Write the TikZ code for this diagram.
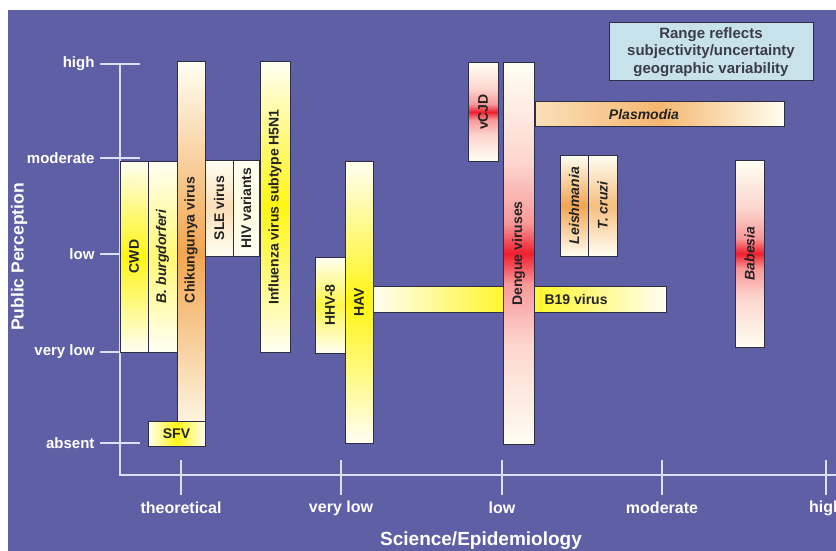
\documentclass[tikz,border=0pt]{standalone}
\usepackage{fontspec}
\setmainfont{Liberation Sans}
\definecolor{bgpurple}{RGB}{95,95,165}
\definecolor{axiscol}{RGB}{222,222,245}
\definecolor{barline}{RGB}{45,45,70}
\definecolor{bartext}{RGB}{35,35,35}
\definecolor{ivory}{RGB}{255,254,242}
\definecolor{legendfill}{RGB}{200,226,236}
\definecolor{legendtext}{RGB}{60,60,70}
\definecolor{glowyellow}{RGB}{255,245,20}
\definecolor{gloworange}{RGB}{242,165,80}
\definecolor{glowred}{RGB}{240,30,45}
\pgfdeclareverticalshading{redglow}{100bp}{color(0bp)=(ivory); color(25bp)=(ivory);
    color(38bp)=(glowred!18!ivory); color(46bp)=(glowred!45!ivory); color(50bp)=(glowred);
    color(54bp)=(glowred!45!ivory); color(62bp)=(glowred!18!ivory); color(75bp)=(ivory); color(100bp)=(ivory)}
\begin{document}
\begin{tikzpicture}[x=1pt,y=-1pt,
    axis/.style={axiscol, line width=1.6pt},
    ylab/.style={anchor=east, text=white, font=\fontsize{15}{18}\selectfont\bfseries},
    xlab/.style={text=white, font=\fontsize{16}{19}\selectfont\bfseries},
    bar/.style={draw=barline, line width=1pt, inner sep=0pt, text=bartext,
        font=\fontsize{14}{16}\selectfont\bfseries},
    vglow/.style={top color=ivory, bottom color=ivory, middle color=#1},
    hglow/.style={left color=ivory, right color=ivory, middle color=#1},
    redbar/.style={shade, shading=redglow}]
    \useasboundingbox (0,0) rectangle (836,551);
    \fill[white] (0,0) rectangle (836,551);
    \fill[bgpurple] (8,10) rectangle (836,551);

    % axes
    \draw[axis] (120,64) -- (120,475) -- (836,475);
    \foreach \yy/\lab in {64/high,158/moderate,254/low,352/very low,443/absent} {
        \draw[axis] (100,\yy) -- (140,\yy);
        \node[ylab] (perc\yy) at (98,\yy) {\lab};
    }
    \foreach \xx/\lab in {181/theoretical,341/very low,502/low,662/moderate,826/high} {
        \draw[axis] (\xx,460) -- (\xx,495);
        \node[xlab] (sci\xx) at (\xx,508) {\lab};
    }
    \node[rotate=90, text=white, font=\fontsize{17.5}{20}\selectfont\bfseries] (ytitle) at (19,257) {Public Perception};
    \node[text=white, font=\fontsize{19}{22}\selectfont\bfseries] (xtitle) at (481,541) {Science/Epidemiology};

    % theoretical column
    \node[bar, vglow=glowyellow, minimum width=28pt, minimum height=191pt] (cwd) at (134,256.5) {\rotatebox{90}{CWD}};
    \node[bar, vglow=glowyellow!55!ivory, minimum width=29pt, minimum height=191pt] (bburg) at (162.5,256.5) {\rotatebox{90}{\itshape B. burgdorferi}};
    \node[bar, vglow=gloworange, minimum width=28pt, minimum height=382pt] (chik) at (191,253) {};
    \node[text=bartext, font=\fontsize{14}{16}\selectfont\bfseries] (chiklbl) at (191,240) {\rotatebox{90}{Chikungunya virus}};
    \node[bar, vglow=gloworange!35!ivory, minimum width=28pt, minimum height=96pt] (sle) at (219,208) {\rotatebox{90}{SLE virus}};
    \node[bar, vglow=glowyellow!8!ivory, minimum width=26pt, minimum height=96pt] (hiv) at (246,208) {\rotatebox{90}{HIV variants}};
    \node[bar, vglow=glowyellow, minimum width=30pt, minimum height=290pt] (flu) at (275,207) {\rotatebox{90}{Influenza virus subtype H5N1}};
    \node[bar, hglow=glowyellow, minimum width=57pt, minimum height=25pt] (sfv) at (176.5,433.5) {SFV};

    % very low column
    \node[bar, vglow=glowyellow!75!ivory, minimum width=30pt, minimum height=96pt] (hhv) at (330,305) {\rotatebox{90}{HHV-8}};
    \node[bar, vglow=glowyellow, minimum width=28pt, minimum height=282pt] (hav) at (359,302) {\rotatebox{90}{HAV}};
    \node[bar, hglow=glowyellow, minimum width=293pt, minimum height=26pt] (b19) at (519.5,299) {};
    \node[anchor=west, text=bartext, font=\fontsize{14}{16}\selectfont\bfseries] (b19lbl) at (541,299) {B19 virus};

    % low column
    \node[bar, redbar, minimum width=30pt, minimum height=98pt] (vcjd) at (483,112) {\rotatebox{90}{vCJD}};
    \node[bar, redbar, minimum width=31pt, minimum height=381pt] (dengue) at (518.5,253.5) {\rotatebox{90}{Dengue viruses}};
    \node[bar, left color=gloworange!35!ivory, right color=ivory, middle color=gloworange!80!ivory,
        minimum width=249pt, minimum height=24pt] (plasm) at (659.5,114) {};
    \node[text=bartext, font=\fontsize{14}{16}\selectfont\bfseries\itshape] (plasmlbl) at (644,114) {Plasmodia};
    \node[bar, vglow=gloworange, minimum width=28pt, minimum height=101pt] (leish) at (574,205.5) {\rotatebox{90}{\itshape Leishmania}};
    \node[bar, vglow=gloworange!70!ivory, minimum width=29pt, minimum height=101pt] (tcruzi) at (602.5,205.5) {\rotatebox{90}{\itshape T. cruzi}};
    \node[bar, redbar, minimum width=29pt, minimum height=187pt] (babesia) at (749.5,253.5) {\rotatebox{90}{\itshape Babesia}};

    \node[draw=barline, fill=legendfill, line width=1pt, minimum width=204pt, minimum height=58pt,
        inner sep=0pt, align=center, text=legendtext, font=\fontsize{15}{17.5}\selectfont\bfseries] (legend) at (711,52)
        {Range reflects\\subjectivity/uncertainty\\geographic variability};
\end{tikzpicture}
\end{document}
